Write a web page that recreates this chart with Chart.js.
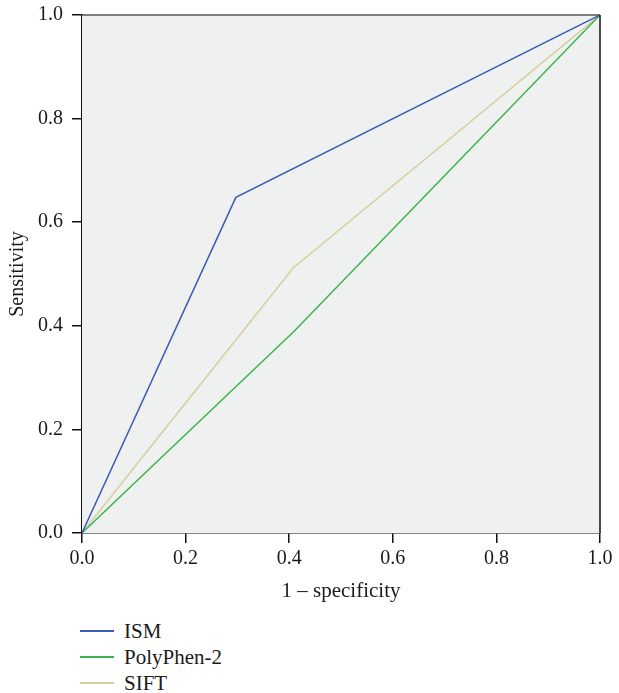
<!DOCTYPE html>
<html>
<head>
<meta charset="utf-8">
<script src="https://cdn.jsdelivr.net/npm/chart.js@4"></script>
<style>
  body { margin: 0; background: #fff; }
  #wrap { position: relative; width: 619px; height: 693px; }
  #roc-box { width: 619px; height: 613px; }
  #legend { margin-top: 5px; padding-left: 80px; font-family: "Liberation Serif", "DejaVu Serif", serif; font-size: 21px; color: #1a1a1a; }
  .item { height: 26px; line-height: 26px; display: flex; align-items: center; }
  .swatch { width: 34px; height: 2px; margin-right: 10px; }
</style>
</head>
<body>
<div id="wrap">
  <div id="roc-box"><canvas id="roc"></canvas></div>
  <div id="legend"></div>
</div>
<script>
// ROC-кривые: доля ложноположительных (1 - специфичность) и чувствительность
const seriesNames = ['ISM', 'PolyPhen-2', 'SIFT'];
const seriesColors = ['#3d5bb6', '#3bb44c', '#d5cf9f'];
const ismFpr = [0, 0.297, 1];
const ismTpr = [0, 0.648, 1];
const polyFpr = [0, 0.41, 1];
const polyTpr = [0, 0.39, 1];
const siftFpr = [0, 0.408, 1];
const siftTpr = [0, 0.512, 1];
const tickValues = [0, 0.2, 0.4, 0.6, 0.8, 1.0];

const FONT = '"Liberation Serif", "DejaVu Serif", serif';
const TEXT = '#1a1a1a';
const toPoints = (xs, ys) => xs.map((x, i) => ({ x: x, y: ys[i] }));

const seriesData = [
  toPoints(ismFpr, ismTpr),
  toPoints(polyFpr, polyTpr),
  toPoints(siftFpr, siftTpr)
];

// Фон и рамка области построения
const plotFrame = {
  id: 'plotFrame',
  beforeDatasetsDraw(chart) {
    const { ctx, chartArea: a } = chart;
    ctx.save();
    ctx.fillStyle = '#eff1f0';
    ctx.fillRect(a.left, a.top, a.right - a.left, a.bottom - a.top);
    ctx.restore();
  },
  afterDraw(chart) {
    const { ctx, chartArea: a } = chart;
    ctx.save();
    ctx.lineWidth = 1.5;
    ctx.strokeStyle = '#555';
    ctx.beginPath();
    ctx.moveTo(a.left, a.top);
    ctx.lineTo(a.right, a.top);
    ctx.stroke();
    ctx.strokeStyle = '#111';
    ctx.beginPath();
    ctx.moveTo(a.right, a.top);
    ctx.lineTo(a.right, a.bottom);
    ctx.stroke();
    ctx.restore();
  }
};

const axisCommon = {
  type: 'linear',
  min: 0,
  max: 1,
  border: { display: true, color: '#111', width: 1.5 },
  grid: { drawOnChartArea: false, drawTicks: true, tickLength: 10, color: '#111', lineWidth: 1.5 },
  afterBuildTicks: (scale) => { scale.ticks = tickValues.map(v => ({ value: v })); }
};

new Chart(document.getElementById('roc'), {
  type: 'line',
  data: {
    datasets: seriesNames.map((name, i) => ({
      label: name,
      data: seriesData[i],
      borderColor: seriesColors[i],
      borderWidth: 1.5,
      pointRadius: 0,
      tension: 0,
      fill: false
    }))
  },
  options: {
    responsive: true,
    maintainAspectRatio: false,
    animation: false,
    layout: { padding: { top: 15, right: 19, left: 0, bottom: 0 } },
    plugins: { legend: { display: false }, tooltip: { enabled: false } },
    scales: {
      x: {
        ...axisCommon,
        position: 'bottom',
        ticks: { color: TEXT, font: { family: FONT, size: 20 }, padding: 4, callback: v => v.toFixed(1), maxRotation: 0 },
        title: { display: true, text: '1 – specificity', color: TEXT, font: { family: FONT, size: 21 }, padding: { top: 0, bottom: 9 } },
        afterFit: (scale) => { scale.height = 80; scale.paddingLeft = 0; scale.paddingRight = 0; }
      },
      y: {
        ...axisCommon,
        position: 'left',
        ticks: { color: TEXT, font: { family: FONT, size: 20 }, padding: 9, callback: v => v.toFixed(1) },
        title: { display: true, text: 'Sensitivity', color: TEXT, font: { family: FONT, size: 20 }, padding: { top: 6, bottom: 0 } },
        afterFit: (scale) => { scale.width = 82; scale.paddingTop = 0; scale.paddingBottom = 0; }
      }
    }
  },
  plugins: [plotFrame]
});

// Легенда под графиком
const legendBox = document.getElementById('legend');
seriesNames.forEach((name, i) => {
  const item = document.createElement('div');
  item.className = 'item';
  item.innerHTML = `<span class="swatch" style="background:${seriesColors[i]}"></span><span>${name}</span>`;
  legendBox.appendChild(item);
});
</script>
</body>
</html>
